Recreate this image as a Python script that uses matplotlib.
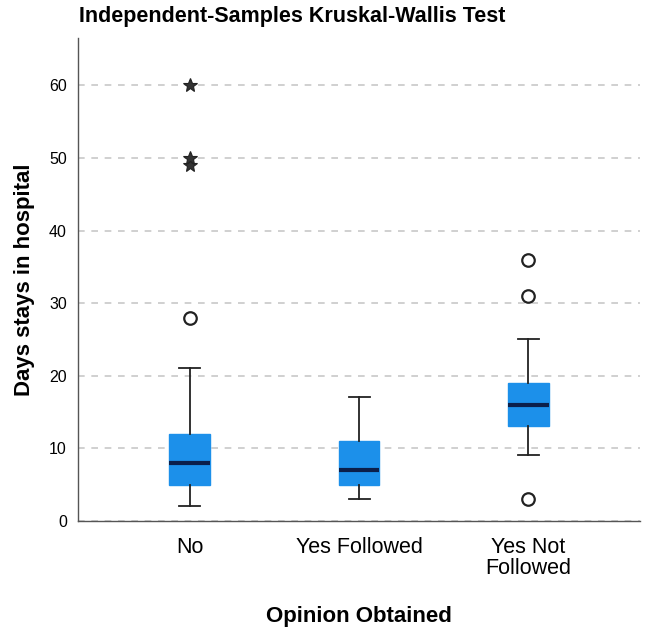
import matplotlib.pyplot as plt

plt.rcParams['font.family'] = ['Liberation Sans', 'DejaVu Sans']

# values
groups = ["No", "Yes Followed", "Yes Not\nFollowed"]
q1 = [5, 5, 13]
medians = [8, 7, 16]
q3 = [12, 11, 19]
whis_lo = [2, 3, 9]
whis_hi = [21, 17, 25]
circles = [[28], [], [3, 31, 36]]
stars = [[49, 50, 60], [], []]

stats = []
for i in range(len(groups)):
    stats.append(dict(label=groups[i], q1=q1[i], med=medians[i], q3=q3[i],
                      whislo=whis_lo[i], whishi=whis_hi[i], fliers=circles[i]))

fig = plt.figure(figsize=(6.5, 6.39), dpi=100)
ax = fig.add_axes([0.12, 0.185, 0.865, 0.755])

pos = [1, 2, 3]
ax.bxp(stats, positions=pos, widths=0.24, patch_artist=True,
       boxprops=dict(facecolor='#1c90ea', edgecolor='#1c90ea', linewidth=1),
       medianprops=dict(color='#0b1f4a', linewidth=3),
       whiskerprops=dict(color='#222222', linewidth=1.3),
       capprops=dict(color='#222222', linewidth=1.3),
       capwidths=0.125,
       flierprops=dict(marker='o', markerfacecolor='white', markeredgecolor='#222222',
                       markersize=9, markeredgewidth=1.6))

# extreme values drawn as stars
for p, s in zip(pos, stars):
    if s:
        ax.plot([p] * len(s), s, linestyle='none', marker='*', markersize=10,
                markerfacecolor='#333333', markeredgecolor='#222222', markeredgewidth=0.8)

ax.set_xlim(0.34, 3.66)
ax.set_ylim(0, 66.5)
ax.set_yticks([0, 10, 20, 30, 40, 50, 60])
ax.yaxis.grid(True, linestyle=(0, (4, 4)), color='#c8c8c8', linewidth=1.2)
ax.set_axisbelow(True)

for sp in ['top', 'right']:
    ax.spines[sp].set_visible(False)
for sp in ['left', 'bottom']:
    ax.spines[sp].set_color('#555555')
    ax.spines[sp].set_linewidth(1)

ax.tick_params(axis='x', length=0, labelsize=15.5, pad=12)
ax.tick_params(axis='y', length=0, labelsize=11.5, pad=8)
ax.set_xticks(pos)
ax.set_xticklabels(groups, linespacing=0.95)

ax.set_ylabel("Days stays in hospital", fontsize=16, fontweight='bold', labelpad=10)
ax.set_xlabel("Opinion Obtained", fontsize=16, fontweight='bold', labelpad=20)
fig.text(0.122, 0.958, "Independent-Samples Kruskal-Wallis Test", fontsize=15.5,
         fontweight='bold', va='bottom', ha='left')

fig.savefig('out.png', dpi=100)
